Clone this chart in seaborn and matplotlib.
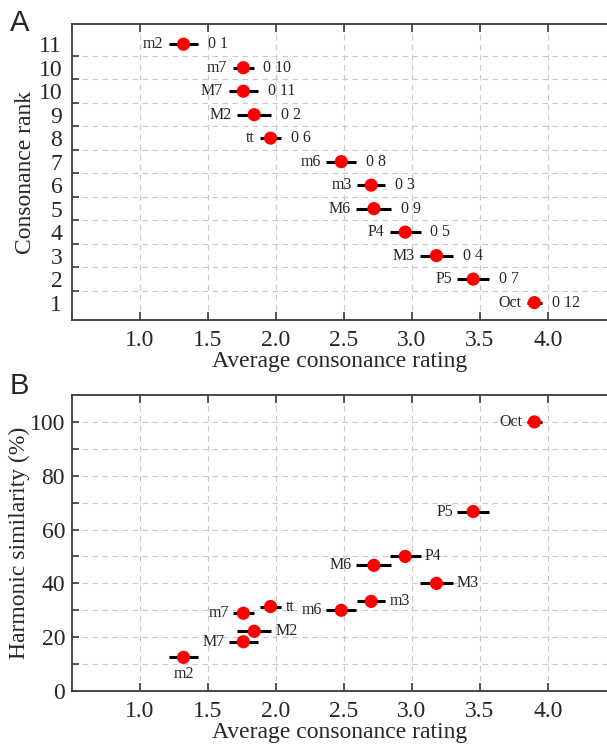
import numpy as np
import pandas as pd
import matplotlib
matplotlib.use("Agg")
import matplotlib.pyplot as plt
import seaborn as sns

# interval data, ordered from least to most consonant
intervals = ["m2", "m7", "M7", "M2", "tt", "m6", "m3", "M6", "P4", "M3", "P5", "Oct"]
semitones = ["0 1", "0 10", "0 11", "0 2", "0 6", "0 8", "0 3", "0 9", "0 5", "0 4", "0 7", "0 12"]
rating = [1.32, 1.76, 1.76, 1.84, 1.96, 2.48, 2.70, 2.72, 2.95, 3.18, 3.45, 3.90]
rating_err = [0.107, 0.075, 0.107, 0.125, 0.08, 0.11, 0.103, 0.129, 0.114, 0.12, 0.116, 0.055]
harmonic_sim = [12.5, 28.9, 18.3, 22.2, 31.4, 30.0, 33.3, 46.7, 50.0, 40.0, 66.7, 100.0]
rank_ticklabels = ["1", "2", "3", "4", "5", "6", "7", "8", "9", "10", "10", "11"]

df = pd.DataFrame({"interval": intervals, "semis": semitones, "rating": rating,
                   "err": rating_err, "sim": harmonic_sim})
df["row"] = len(df) - np.arange(len(df))

sns.set_theme(style="ticks")
plt.rcParams['font.family'] = ['Liberation Serif', 'DejaVu Serif']

grid_kw = dict(color="#c8c8c8", linestyle=(0, (5, 4)), linewidth=0.8)
spine_col = "#3a3a3a"

fig = plt.figure(figsize=(6.07, 7.44), dpi=100)
axA = fig.add_axes([72/607, 1-320/744, 1-72/607, 296/744])
axB = fig.add_axes([72/607, 1-691/744, 1-72/607, 296/744])


def style_axes(ax):
    for side in ["left", "top", "bottom"]:
        ax.spines[side].set_color(spine_col)
        ax.spines[side].set_linewidth(1.3)
    ax.spines["right"].set_visible(False)
    ax.set_xlim(0.5, 4.434)
    ax.set_xticks(np.arange(1.0, 4.01, 0.5))
    ax.set_xticklabels([f"{v:.1f}" for v in np.arange(1.0, 4.01, 0.5)])
    ax.tick_params(axis="x", which="major", direction="in", top=True, bottom=True,
                   length=6, width=1.2, color=spine_col, labelsize=17, pad=7)
    ax.xaxis.grid(True, which="major", **grid_kw)
    ax.set_xlabel("Average consonance rating", fontsize=17, labelpad=0)
    ax.set_axisbelow(True)


# ---- panel A ----
axA.errorbar(df["rating"], df["row"], xerr=df["err"], fmt="none",
             ecolor="black", elinewidth=2.2, capsize=0, zorder=2)
sns.scatterplot(data=df, x="rating", y="row", color="red", s=90,
                edgecolor="none", ax=axA, zorder=3, legend=False)
for _, r in df.iterrows():
    axA.annotate(r["interval"], (r["rating"] - r["err"], r["row"]), xytext=(-4, 0),
                 textcoords="offset points", ha="right", va="center", fontsize=11.5)
    axA.annotate(r["semis"], (r["rating"] + r["err"], r["row"]), xytext=(7, 0),
                 textcoords="offset points", ha="left", va="center", fontsize=11.5)
style_axes(axA)
axA.set_ylim(0.26, 12.86)
axA.set_yticks(np.arange(1, 13))
axA.set_yticklabels(rank_ticklabels)
axA.set_yticks(np.arange(1.5, 12, 1), minor=True)
axA.tick_params(axis="y", which="major", length=0, labelsize=17, pad=7)
axA.tick_params(axis="y", which="minor", direction="in", length=5, width=1.2, color=spine_col)
axA.yaxis.grid(True, which="minor", **grid_kw)
axA.set_ylabel("Consonance rank", fontsize=17, labelpad=2)

# ---- panel B ----
sides = {"m2": "below", "m7": "left", "M7": "left", "M2": "right", "tt": "right",
         "m6": "left", "m3": "right", "M6": "left", "P4": "right", "M3": "right",
         "P5": "left", "Oct": "left"}
axB.errorbar(df["rating"], df["sim"], xerr=df["err"], fmt="none",
             ecolor="black", elinewidth=2.2, capsize=0, zorder=2)
sns.scatterplot(data=df, x="rating", y="sim", color="red", s=90,
                edgecolor="none", ax=axB, zorder=3, legend=False)
for _, r in df.iterrows():
    side = sides[r["interval"]]
    if side == "left":
        axB.annotate(r["interval"], (r["rating"] - r["err"], r["sim"]), xytext=(-3, 0),
                     textcoords="offset points", ha="right", va="center", fontsize=11.5)
    elif side == "right":
        axB.annotate(r["interval"], (r["rating"] + r["err"], r["sim"]), xytext=(3, 0),
                     textcoords="offset points", ha="left", va="center", fontsize=11.5)
    else:
        axB.annotate(r["interval"], (r["rating"], r["sim"]), xytext=(0, -6),
                     textcoords="offset points", ha="center", va="top", fontsize=11.5)
style_axes(axB)
axB.set_ylim(0, 110)
axB.set_yticks(np.arange(0, 101, 20))
axB.set_yticks(np.arange(10, 100, 20), minor=True)
axB.tick_params(axis="y", which="both", direction="in", length=5, width=1.2,
                color=spine_col, labelsize=17, pad=5)
axB.yaxis.grid(True, which="both", **grid_kw)
axB.set_ylabel("Harmonic similarity (%)", fontsize=17, labelpad=0)

fig.text(10/607, 1-23/744, "A", fontsize=21, family=["Liberation Sans", "DejaVu Sans"],
         ha="left", va="center")
fig.text(10/607, 1-386/744, "B", fontsize=21, family=["Liberation Sans", "DejaVu Sans"],
         ha="left", va="center")

fig.savefig("out.png", dpi=100)
